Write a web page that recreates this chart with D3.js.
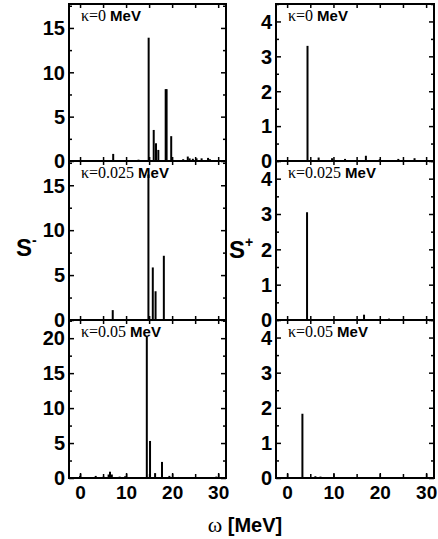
<!DOCTYPE html>
<meta charset="utf-8">
<style>
    body { margin: 0; background: #fff; }
    .tick text { font-family: "Liberation Sans", Arial, sans-serif; font-weight: bold; fill: #000; }
</style>
<script src="https://d3js.org/d3.v7.min.js"></script>
<div id="graph"></div>
<script>
    // coupling strengths (one row of panels each)
    const kappaLabels = ["0", "0.025", "0.05"];

    // S- strength distributions: [omega (MeV), strength]
    const sMinusK0 = [[7.2, 0.8], [12.7, 0.15], [14.9, 13.9], [16.0, 3.5], [16.5, 2.0], [17.0, 1.25],
        [18.6, 8.1], [18.8, 8.1], [19.8, 2.8], [22.4, 0.2], [23.4, 0.5], [23.8, 0.3], [24.5, 0.25],
        [25.3, 0.3], [26.4, 0.3], [27.8, 0.35], [28.2, 0.2]];
    const sMinusK025 = [[7.1, 1.1], [14.85, 16.2], [15.8, 5.85], [16.4, 3.2], [18.2, 7.15],
        [22.5, 0.1], [24.0, 0.1]];
    const sMinusK05 = [[0.0, 0.3], [3.4, 0.3], [5.1, 0.2], [6.2, 0.5], [6.5, 0.9], [6.9, 0.5],
        [8.6, 0.2], [9.8, 0.25], [14.5, 20.2], [15.2, 5.3], [16.3, 0.7], [17.8, 2.3], [19.4, 0.3],
        [21.4, 0.15], [24.3, 0.1], [29.6, 0.2]];

    // S+ strength distributions
    const sPlusK0 = [[4.4, 3.3], [6.8, 0.1], [9.7, 0.08], [12.5, 0.06], [17.0, 0.15], [20.0, 0.05],
        [24.0, 0.06], [27.5, 0.08]];
    const sPlusK025 = [[4.3, 3.05], [16.6, 0.15], [22.0, 0.04]];
    const sPlusK05 = [[3.3, 1.83], [6.1, 0.05], [7.2, 0.04]];

    const sMinusMax = [17.7, 17.7, 22.6];
    const sPlusMax = [4.5, 4.5, 4.5];
    const omegaDomain = [-2.4, 31.7];
    const omegaTicks = [0, 10, 20, 30];

    const W = 438, H = 539;
    const rows = [[4, 161], [161, 320], [320, 478]];
    const cols = [[69, 226], [276, 434]];

    const svg = d3.select("#graph").append("svg")
        .attr("width", W).attr("height", H);

    const panels = [
        {col: 0, row: 0, data: sMinusK0, ymax: sMinusMax[0], major: 5, minor: 2.5},
        {col: 0, row: 1, data: sMinusK025, ymax: sMinusMax[1], major: 5, minor: 2.5},
        {col: 0, row: 2, data: sMinusK05, ymax: sMinusMax[2], major: 5, minor: 2.5},
        {col: 1, row: 0, data: sPlusK0, ymax: sPlusMax[0], major: 1, minor: 0.5},
        {col: 1, row: 1, data: sPlusK025, ymax: sPlusMax[1], major: 1, minor: 0.5},
        {col: 1, row: 2, data: sPlusK05, ymax: sPlusMax[2], major: 1, minor: 0.5}
    ];

    panels.forEach(p => {
        const [x0, x1] = cols[p.col], [y0, y1] = rows[p.row];
        const x = d3.scaleLinear().domain(omegaDomain).range([x0, x1]);
        const y = d3.scaleLinear().domain([0, p.ymax]).range([y1, y0]);
        const g = svg.append("g");

        const majorY = d3.range(0, p.ymax + 1e-9, p.major);
        const minorY = d3.range(0, p.ymax + 1e-9, p.minor).filter(v => Math.abs(v / p.major - Math.round(v / p.major)) > 1e-6);
        const xt = d3.range(0, 31, 5);

        // spikes
        g.selectAll("line.spike").data(p.data).enter().append("line")
            .attr("class", "spike")
            .attr("x1", d => x(d[0])).attr("x2", d => x(d[0]))
            .attr("y1", y(0)).attr("y2", d => y(d[1]))
            .attr("stroke", "#000").attr("stroke-width", 2);

        // left axis with labels
        const axL = g.append("g").attr("transform", `translate(${x0},0)`)
            .call(d3.axisLeft(y).tickValues(majorY).tickSize(-5).tickPadding(4).tickFormat(d3.format("d")));
        axL.selectAll("text").attr("font-size", 20).attr("dy", "0.34em");
        g.append("g").attr("transform", `translate(${x0},0)`)
            .call(d3.axisLeft(y).tickValues(minorY).tickSize(-3).tickFormat(""));
        // right axis ticks
        g.append("g").attr("transform", `translate(${x1},0)`)
            .call(d3.axisRight(y).tickValues(majorY).tickSize(-5).tickFormat(""));
        g.append("g").attr("transform", `translate(${x1},0)`)
            .call(d3.axisRight(y).tickValues(minorY).tickSize(-3).tickFormat(""));
        // bottom / top ticks
        const axB = g.append("g").attr("transform", `translate(0,${y1})`)
            .call(d3.axisBottom(x).tickValues(p.row === 2 ? omegaTicks : []).tickSize(-5).tickPadding(6).tickFormat(d3.format("d")));
        axB.selectAll("text").attr("font-size", 19).attr("dy", "0.78em");
        g.append("g").attr("transform", `translate(0,${y1})`)
            .call(d3.axisBottom(x).tickValues(xt).tickSize(-4).tickFormat(""));
        g.append("g").attr("transform", `translate(0,${y0})`)
            .call(d3.axisTop(x).tickValues(xt).tickSize(-4).tickFormat(""));

        g.selectAll(".domain").remove();
        g.selectAll(".tick line").attr("stroke", "#000").attr("stroke-width", 1.5);

        // frame
        g.append("rect").attr("x", x0).attr("y", y0).attr("width", x1 - x0).attr("height", y1 - y0)
            .attr("fill", "none").attr("stroke", "#000").attr("stroke-width", 2);

        // kappa label
        const lab = g.append("text").attr("x", x0 + 12).attr("y", y0 + 16.5).attr("font-size", 15);
        lab.append("tspan").attr("font-family", "'Liberation Serif', 'Times New Roman', serif")
            .attr("font-size", 16).text("\u03ba=" + kappaLabels[p.row] + " ");
        lab.append("tspan").attr("font-family", "'Liberation Sans', Arial, sans-serif")
            .attr("font-weight", "bold").text("MeV");
    });

    // y titles
    const sFont = "'Liberation Sans', Arial, sans-serif";
    const sm = svg.append("text").attr("x", 16).attr("y", 256).attr("font-family", sFont)
        .attr("font-weight", "bold").attr("font-size", 24);
    sm.append("tspan").text("S");
    sm.append("tspan").attr("dy", -11).attr("font-size", 14).text("-");
    const sp = svg.append("text").attr("x", 229).attr("y", 258).attr("font-family", sFont)
        .attr("font-weight", "bold").attr("font-size", 24);
    sp.append("tspan").text("S");
    sp.append("tspan").attr("dy", -11).attr("font-size", 14).text("+");

    // x title
    const xt = svg.append("text").attr("x", 245).attr("y", 532).attr("text-anchor", "middle");
    xt.append("tspan").attr("font-family", "'Liberation Serif', 'Times New Roman', serif")
        .attr("font-size", 22).text("\u03c9 ");
    xt.append("tspan").attr("font-family", sFont).attr("font-weight", "bold")
        .attr("font-size", 20).text("[MeV]");
</script>
